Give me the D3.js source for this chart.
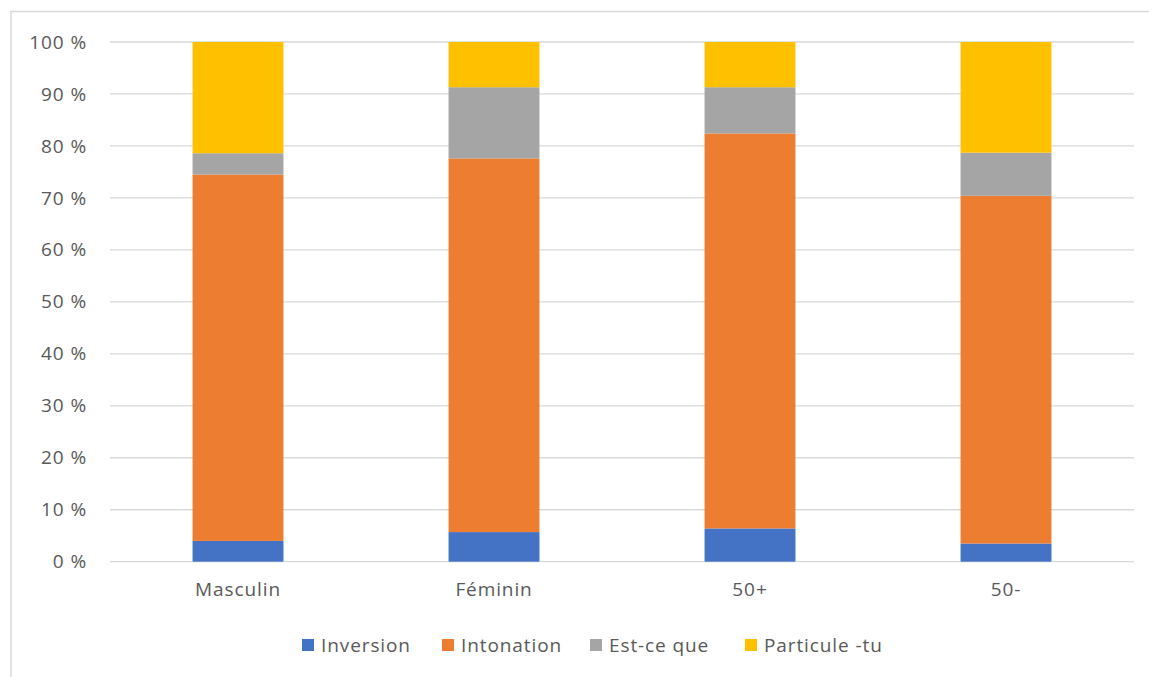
<!DOCTYPE html>
<html>
<head>
<meta charset="utf-8">
<script src="https://cdn.jsdelivr.net/npm/d3@7"></script>
<style>
  html, body { margin: 0; padding: 0; background: #fff; }
  svg { display: block; font-family: "Open Sans", "Liberation Sans", sans-serif; }
</style>
</head>
<body>
<svg id="chart" width="1149" height="677"></svg>
<script>
// Question forms by group (percent of each group)
const categories = ["Masculin", "Féminin", "50+", "50-"];
const seriesNames = ["Inversion", "Intonation", "Est-ce que", "Particule -tu"];
const inversion = [4.0, 5.7, 6.4, 3.5];
const intonation = [70.5, 71.9, 76.0, 66.9];
const estCeQue = [4.1, 13.7, 8.9, 8.3];
const particuleTu = [21.4, 8.7, 8.7, 21.3];
const yTicks = [0, 10, 20, 30, 40, 50, 60, 70, 80, 90, 100];
const colors = ["#4472c4", "#ed7d31", "#a5a5a5", "#ffc000"];

const seriesValues = [inversion, intonation, estCeQue, particuleTu];
const rows = categories.map((c, i) => {
  const r = { category: c };
  seriesNames.forEach((s, k) => { r[s] = seriesValues[k][i]; });
  return r;
});

const textColor = "#595959";
const fontSize = 19;
const spacing = 0.9;

const svg = d3.select("#chart");

// Chart frame (left and top edges)
svg.append("path")
  .attr("d", "M11,677 V11.5 H1149")
  .attr("fill", "none")
  .attr("stroke", "#d9d9d9")
  .attr("stroke-width", 1.5);

const plot = { left: 110, right: 1134, top: 42, bottom: 561.7 };

const x = d3.scaleBand()
  .domain(categories)
  .range([plot.left, plot.right])
  .padding(0);
const barW = x.bandwidth() * 0.355;

const y = d3.scaleLinear()
  .domain([0, 100])
  .range([plot.bottom, plot.top]);

// Horizontal gridlines
svg.append("g")
  .selectAll("line")
  .data(yTicks)
  .join("line")
  .attr("x1", plot.left)
  .attr("x2", plot.right)
  .attr("y1", d => y(d))
  .attr("y2", d => y(d))
  .attr("stroke", "#d9d9d9")
  .attr("stroke-width", 1.3);

function styleText(g) {
  g.selectAll("text")
    .attr("fill", textColor)
    .attr("font-size", fontSize)
    .attr("letter-spacing", spacing)
    .attr("font-family", "Open Sans, Liberation Sans, sans-serif");
}

// Y axis labels
const yAxis = d3.axisLeft(y)
  .tickValues(yTicks)
  .tickSize(0)
  .tickPadding(0)
  .tickFormat(d => d + " %");
svg.append("g")
  .attr("transform", "translate(87,0)")
  .call(yAxis)
  .call(g => g.select(".domain").remove())
  .call(styleText);

// Stacked bars
const stack = d3.stack().keys(seriesNames);
const stacked = stack(rows);

svg.append("g")
  .selectAll("g")
  .data(stacked)
  .join("g")
  .attr("fill", (d, i) => colors[i])
  .selectAll("rect")
  .data(d => d)
  .join("rect")
  .attr("x", d => x(d.data.category) + (x.bandwidth() - barW) / 2)
  .attr("width", barW)
  .attr("y", d => y(d[1]))
  .attr("height", d => y(d[0]) - y(d[1]));

// Category axis labels
const xAxis = d3.axisBottom(x).tickSize(0).tickPadding(0);
svg.append("g")
  .attr("transform", `translate(0,${plot.bottom + 21})`)
  .call(xAxis)
  .call(g => g.select(".domain").remove())
  .call(styleText);

// Legend
const legendX = [302, 442, 590, 745];
const legend = svg.append("g");
seriesNames.forEach((name, i) => {
  const g = legend.append("g").attr("transform", `translate(${legendX[i]},639)`);
  g.append("rect").attr("width", 12).attr("height", 12).attr("fill", colors[i]);
  g.append("text")
    .attr("x", 19)
    .attr("y", 12.5)
    .attr("fill", textColor)
    .attr("font-size", fontSize)
    .attr("letter-spacing", spacing)
    .text(name);
});
</script>
</body>
</html>
